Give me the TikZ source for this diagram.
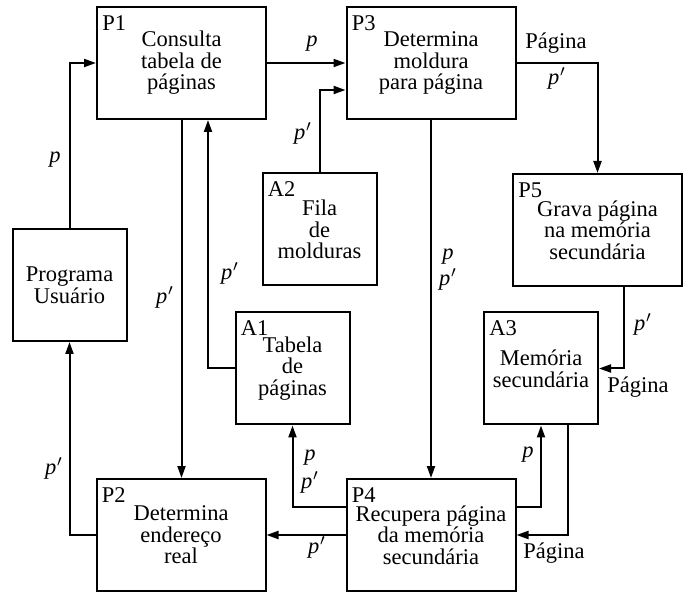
\documentclass[tikz,border=0pt]{standalone}
\usepackage{fontspec}
\setmainfont{Liberation Serif}
\usetikzlibrary{arrows.meta,calc}

% italic flow variables
\newcommand{\pv}{\textit{p}}
\newcommand{\pvq}{\textit{p}\kern0.4pt$'$}

\tikzset{
  every picture/.style={x=0.5pt,y=-0.5pt},
  txt/.style={font=\fontsize{11.25}{10.8}\selectfont},
  proc/.style={txt,draw,line width=1pt,inner sep=0pt,align=center},
  bigbox/.style={proc,minimum width=84.5pt,minimum height=56pt},
  smallbox/.style={proc,minimum width=57pt,minimum height=56pt},
  tag/.style={txt,inner sep=0pt,anchor=north west},
  lbl/.style={txt,inner sep=0pt},
  flow/.style={line width=1pt,-{Triangle[length=6pt,width=4pt]}}
}

\begin{document}
\begin{tikzpicture}
\useasboundingbox (0,0) rectangle (686,593);

% processes and stores
\node[bigbox]   (P1) at (181.5,63)  {Consulta\\tabela de\\páginas};
\node[bigbox]   (P3) at (431,63)    {Determina\\moldura\\para página};
\node[smallbox] (PU) at (69.5,285)  {Programa\\Usuário};
\node[smallbox] (A2) at (319.5,229.5) {Fila\\de\\molduras};
\node[bigbox]   (P5) at (597.5,230) {Grava página\\na memória\\secundária};
\node[smallbox] (A1) at (292.5,368.5) {Tabela\\de\\páginas};
\node[smallbox] (A3) at (541,368.5) {Memória\\secundária};
\node[bigbox]   (P2) at (181,535)   {Determina\\endereço\\real};
\node[bigbox]   (P4) at (431,535)   {Recupera página\\da memória\\secundária};

% corner identifiers
\foreach \b in {P1,P3,A2,P5,A1,A3,P2,P4}
  \node[tag] (t\b) at ([shift={(3pt,-4.5pt)}]\b.north west) {\b};

% data flows
\draw[flow] (PU.north) |- (P1.west);
\draw[flow] (P1.east) -- (P3.west);
\draw[flow] (A2.north) |- ([yshift=-13.5pt]P3.west);
\draw[flow] (P1.south) -- (P1.south |- P2.north);
\draw[flow] (A1.west) -| ([xshift=13.25pt]P1.south);
\draw[flow] (P3.south) -- (P4.north);
\draw[flow] (P3.east) -| (P5.north);
\draw[flow] ([xshift=13.25pt]P5.south) |- (A3.east);
\draw[flow] ([yshift=14pt]P4.east) -| (A3.south);
\draw[flow] ([xshift=13.5pt]A3.south) |- (P4.east);
\draw[flow] ([yshift=14pt]P4.west) -| (A1.south);
\draw[flow] (P4.west) -- (P2.east);
\draw[flow] (P2.west) -| (PU.south);

% flow labels
\node[lbl] (l1)  at (55,160)  {\pv};
\node[lbl] (l2)  at (312,44)  {\pv};
\node[lbl] (l3)  at (303,133) {\pvq};
\node[lbl] (l4)  at (230,273) {\pvq};
\node[lbl] (l5)  at (165,297) {\pvq};
\node[lbl] (l6)  at (54,468)  {\pvq};
\node[lbl] (l7)  at (310,458) {\pv};
\node[lbl] (l8)  at (310,482) {\pvq};
\node[lbl] (l9)  at (317,547) {\pvq};
\node[lbl] (l10) at (556,43)  {Página};
\node[lbl] (l11) at (557,78)  {\pvq};
\node[lbl] (l12) at (448,257) {\pv};
\node[lbl] (l13) at (448,279) {\pvq};
\node[lbl] (l14) at (643,324) {\pvq};
\node[lbl] (l15) at (638,387) {Página};
\node[lbl] (l16) at (528,455) {\pv};
\node[lbl] (l17) at (554,553) {Página};
\end{tikzpicture}
\end{document}
